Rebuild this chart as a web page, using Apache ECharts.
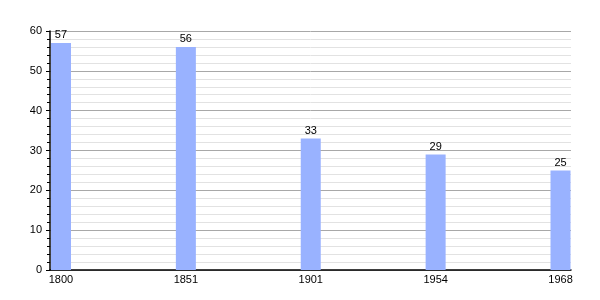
<!DOCTYPE html>
<html><head><meta charset="utf-8">
<script src="https://cdn.jsdelivr.net/npm/echarts@6/dist/echarts.min.js"></script>
<style>html,body{margin:0;padding:0;background:#fff}#c{width:600px;height:300px}</style>
</head><body><div id="c"></div>
<script>
const years = ['1800', '1851', '1901', '1954', '1968'];
const values = [57, 56, 33, 29, 25];

const chart = echarts.init(document.getElementById('c'), null, {renderer: 'canvas'});
const font = 'Liberation Sans, Arial, sans-serif';
chart.setOption({
  animation: false,
  grid: {left: 50, right: 29, top: 31, bottom: 30},
  xAxis: {
    type: 'value', min: -0.088, max: 4.084,
    axisLine: {show: true, onZero: false, lineStyle: {color: '#000', width: 1.5}},
    axisTick: {show: false},
    splitLine: {show: false},
    axisLabel: {customValues: [0, 1, 2, 3, 4], formatter: v => years[Math.round(v)],
      color: '#000', fontSize: 11, fontFamily: font, margin: 4}
  },
  yAxis: {
    type: 'value', min: 0, max: 60, interval: 10,
    axisLine: {show: true, onZero: false, lineStyle: {color: '#000', width: 1.5}},
    axisTick: {show: true, inside: false, length: 4, lineStyle: {color: '#000'}},
    minorTick: {show: true, splitNumber: 5, length: 3, lineStyle: {color: '#000'}},
    splitLine: {show: true, lineStyle: {color: '#a8a8a8', width: 1}},
    minorSplitLine: {show: true, lineStyle: {color: '#e2e2e2', width: 1}},
    axisLabel: {color: '#000', fontSize: 11, fontFamily: font, margin: 8}
  },
  series: [{
    type: 'bar',
    data: values.map((v, i) => [i, v]),
    barWidth: 20,
    itemStyle: {color: '#99b2ff'},
    label: {show: true, position: 'top', distance: 2, color: '#000', fontSize: 11, fontFamily: font}
  }]
});
</script></body></html>
